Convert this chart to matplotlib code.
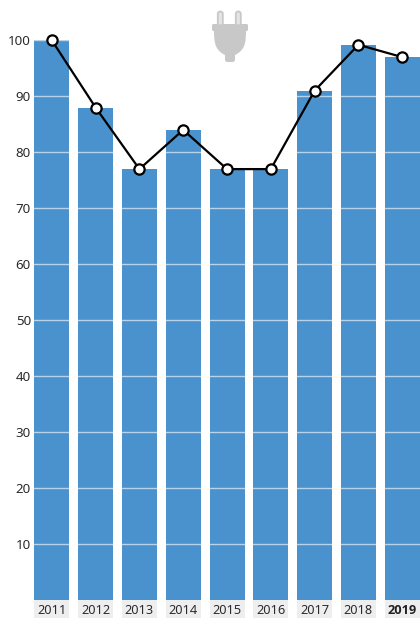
import matplotlib
matplotlib.use('Agg')
import matplotlib.pyplot as plt
from matplotlib.patches import PathPatch, FancyBboxPatch
from matplotlib.path import Path
from matplotlib.transforms import Affine2D

years = ['2011', '2012', '2013', '2014', '2015', '2016', '2017', '2018', '2019']
values = [100, 88, 77, 84, 77, 77, 91, 99.2, 97]
y_ticks = [10, 20, 30, 40, 50, 60, 70, 80, 90, 100]

W, H = 420, 618
BLUE = '#4a92cd'
LABEL_BG = '#eeeeee'
PLUG = '#c8c8c8'
TEXT = '#2b2b2b'

plt.rcParams['font.family'] = ['Noto Sans', 'DejaVu Sans']

fig = plt.figure(figsize=(W / 100, H / 100), dpi=100, facecolor='white')
ax = fig.add_axes([0, 0, 1, 1])
ax.axis('off')

# one year step is 43.8 px, one value unit 5.6 px
x0, step = 51.8, 43.8
y0, unit = 600.3, 5.6
ax.set_xlim(-x0 / step, (W - x0) / step)
ax.set_ylim(-(H - y0) / unit, y0 / unit)

xs = list(range(len(years)))
bar_w = 35 / step

ax.bar(xs, values, width=bar_w, color=BLUE, zorder=2)

# light gridlines only show up across the bars
for t in y_ticks:
    ax.axhline(t, color='white', lw=1.0, alpha=0.6, zorder=3)
    ax.text(-0.475, t - 0.3, str(t), ha='right', va='center', fontsize=9.6, color=TEXT)

# year labels on grey chips under the bars
label_h = (H - y0) / unit
ax.bar(xs, [-label_h] * len(xs), width=bar_w, color=LABEL_BG, zorder=1)
for i, year in enumerate(years):
    if i == len(years) - 1:
        ax.text(i, -1.9, year, ha='center', va='center', fontsize=9.2,
                color='#222222', fontweight='bold', family=['Open Sans', 'DejaVu Sans'])
    else:
        ax.text(i, -1.9, year, ha='center', va='center', fontsize=9.2, color=TEXT)

ax.plot(xs, values, color='black', lw=1.6, zorder=4,
        marker='o', markersize=7.4, markerfacecolor='white',
        markeredgecolor='black', markeredgewidth=1.6, clip_on=False)

# plug icon, coordinates in px from the top left corner
to_px = Affine2D().scale(1, -1).translate(0, H)
body = Path(
    [(214, 30), (246, 30), (246, 43), (245, 50), (235, 55), (235, 60), (235, 62), (232, 62),
     (228, 62), (225, 62), (225, 60), (225, 55), (215, 50), (214, 43), (214, 30)],
    [Path.MOVETO, Path.LINETO, Path.CURVE4, Path.CURVE4, Path.CURVE4,
     Path.LINETO, Path.CURVE3, Path.CURVE3, Path.LINETO, Path.CURVE3, Path.CURVE3,
     Path.LINETO, Path.CURVE4, Path.CURVE4, Path.CURVE4])
fig.add_artist(PathPatch(body, fc=PLUG, ec='none', transform=to_px))
fig.add_artist(FancyBboxPatch((212, 24), 36, 7, boxstyle='round,pad=0,rounding_size=1.5',
                              fc=PLUG, ec='none', transform=to_px))
for px in (217.8, 235.8):
    fig.add_artist(FancyBboxPatch((px, 11.5), 5, 14, boxstyle='round,pad=0,rounding_size=2.4',
                                  fc='#e4e4e4', ec=PLUG, lw=1.3, transform=to_px))

fig.savefig('out.png', dpi=100)
